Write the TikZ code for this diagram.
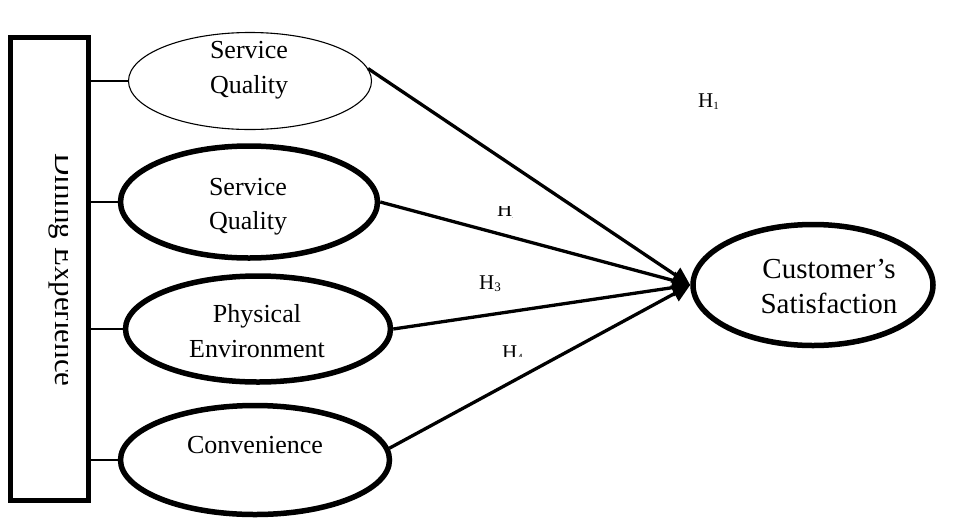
\documentclass[tikz,border=0pt]{standalone}
\usepackage{fontspec}
\setmainfont{Liberation Serif}
\usetikzlibrary{shapes.geometric,arrows.meta}
\begin{document}
\begin{tikzpicture}[x=1pt,y=-1pt,
 ell/.style={ellipse,draw,line width=5.5pt,inner sep=0pt},
 thinell/.style={ellipse,draw,line width=1.1pt,inner sep=0pt},
 lbl/.style={inner sep=0pt,anchor=base,font=\fontsize{26}{30}\selectfont},
 big/.style={inner sep=0pt,anchor=base,font=\fontsize{29}{33}\selectfont},
 hyp/.style={inner sep=0pt,anchor=base west,font=\fontsize{21}{24}\selectfont},
 conn/.style={line width=2.2pt},
 arr/.style={line width=3.3pt,-{Triangle[length=18pt,width=17pt]}}]
\path[fill=white,use as bounding box] (0,0) rectangle (960,517);

% left box
\node[draw,line width=5.5pt,minimum width=78pt,minimum height=463pt,inner sep=0pt] (de) at (49.5,269) {};
\begin{scope}
\clip (12,40) rectangle (67,498);
\node[rotate=-90,inner sep=0pt,anchor=base,font=\fontsize{31}{34}\selectfont] (detext) at (55,270) {Dining Experience};
\end{scope}

% ellipses
\node[thinell,minimum width=243pt,minimum height=97pt] (e1) at (250,81) {};
\node[ell,minimum width=257pt,minimum height=112pt] (e2) at (249,202) {};
\node[ell,minimum width=265pt,minimum height=106pt] (e3) at (258,329) {};
\node[ell,minimum width=269pt,minimum height=109pt] (e4) at (255,460) {};
\node[ell,minimum width=240pt,minimum height=121pt] (cs) at (813,285) {};

% texts
\node[lbl] (t1a) at (249,58) {Service};
\node[lbl] (t1b) at (249,93) {Quality};
\node[lbl] (t2a) at (248,195) {Service};
\node[lbl] (t2b) at (248,229) {Quality};
\node[lbl] (t3a) at (257,322) {Physical};
\node[lbl] (t3b) at (257,357) {Environment};
\node[lbl] (t4) at (255,453) {Convenience};
\node[big] (t5a) at (829,278) {Customer’s};
\node[big] (t5b) at (829,313) {Satisfaction};

% connectors from box
\draw[conn] (de.east |- e1.west) -- (e1.west);
\draw[conn] (de.east |- e2.west) -- (e2.west);
\draw[conn] (de.east |- e3.west) -- (e3.west);
\draw[conn] (de.east |- e4.west) -- (e4.west);

% arrows
\draw[arr] (e1.6) -- (cs.west);
\draw[arr] (e2.east) -- (cs.west);
\draw[arr] (e3.east) -- (cs.west);
\draw[arr] (e4.5) -- (cs.west);

% hypothesis labels
\node[hyp] (h1) at (698,107) {H\raisebox{-2pt}{\fontsize{11}{11}\selectfont 1}};
\begin{scope}
\clip (480,206.5) rectangle (512,218);
\node[hyp] (h2) at (497,216) {H\raisebox{-2pt}{\fontsize{11}{11}\selectfont 2}};
\end{scope}
\node[hyp] (h3) at (479,289) {H\raisebox{-2pt}{\fontsize{13}{13}\selectfont 3}};
\begin{scope}
\clip (480,335) rectangle (540,356);
\node[hyp] (h4) at (502,359) {H\raisebox{-2pt}{\fontsize{11}{11}\selectfont 4}};
\end{scope}
\end{tikzpicture}
\end{document}
